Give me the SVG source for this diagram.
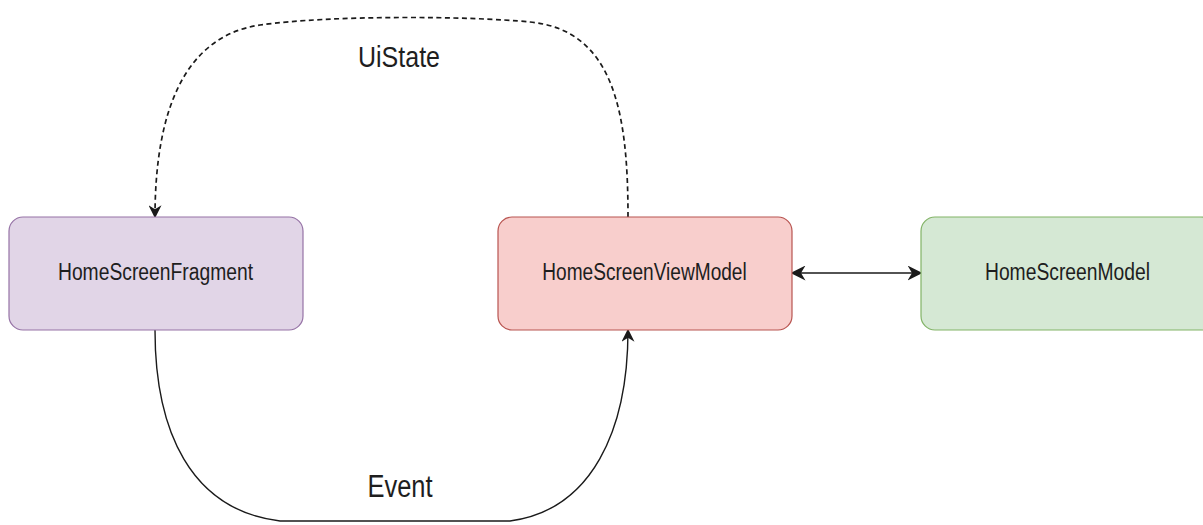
<svg xmlns="http://www.w3.org/2000/svg" width="1203" height="525" viewBox="0 0 1203 525">
  <style>
    .node { stroke-width: 1.2; }
    .label { font-family: "Liberation Sans", Arial, sans-serif; fill: #1e1e1e; text-anchor: middle; }
    .edge { fill: none; stroke: #1a1a1a; stroke-width: 1.4; }
    .dashed { stroke-width: 1.7; stroke-dasharray: 5 3.5; }
  </style>
  <defs>
    <marker id="arrowBig" viewBox="0 0 10 10" refX="9" refY="5" markerWidth="13" markerHeight="13" markerUnits="userSpaceOnUse" orient="auto-start-reverse">
      <path d="M0,0 L10,5 L0,10 L3,5 z" fill="#1a1a1a"/>
    </marker>
    <marker id="arrowWide" viewBox="0 0 10 10" refX="9" refY="5" markerWidth="15" markerHeight="15" markerUnits="userSpaceOnUse" orient="auto-start-reverse">
      <path d="M0,0 L10,5 L0,10 L3,5 z" fill="#1a1a1a"/>
    </marker>
  </defs>

  <rect width="1203" height="525" fill="#ffffff"/>

  <g id="connectors">
    <!-- UiState: view model back to fragment (dashed) -->
    <path class="edge dashed" marker-end="url(#arrowBig)"
          d="M628,217 C628,115 615,30 530,22 C470,16 330,15 260,25 C185,36 155,110 155,217"/>
    <!-- Event: fragment to view model -->
    <path class="edge" marker-end="url(#arrowBig)"
          d="M155,330 C155,430 190,510 280,521 L510,521 C592,510 628,430 628,330"/>
    <!-- view model <-> model -->
    <path class="edge" stroke-width="2" marker-start="url(#arrowWide)" marker-end="url(#arrowWide)"
          d="M792,273 L921,273"/>
    <text class="label" transform="translate(399,67) scale(1,1.2)" font-size="25">UiState</text>
    <text class="label" transform="translate(400,497) scale(1,1.2)" font-size="25.5">Event</text>
  </g>

  <g id="home-screen-fragment">
    <rect class="node" x="9" y="217" width="294" height="113" rx="14" fill="#e1d5e7" stroke="#9673a6"/>
    <text class="label" transform="translate(155.5,280) scale(1,1.22)" font-size="19.3">HomeScreenFragment</text>
  </g>

  <g id="home-screen-view-model">
    <rect class="node" x="498" y="217" width="294" height="113" rx="14" fill="#f8cecc" stroke="#b85450"/>
    <text class="label" transform="translate(644.5,280) scale(1,1.22)" font-size="19.1">HomeScreenViewModel</text>
  </g>

  <g id="home-screen-model">
    <rect class="node" x="921" y="217" width="294" height="113" rx="14" fill="#d5e8d4" stroke="#82b366"/>
    <text class="label" transform="translate(1067.5,280) scale(1,1.22)" font-size="19.3">HomeScreenModel</text>
  </g>
</svg>
